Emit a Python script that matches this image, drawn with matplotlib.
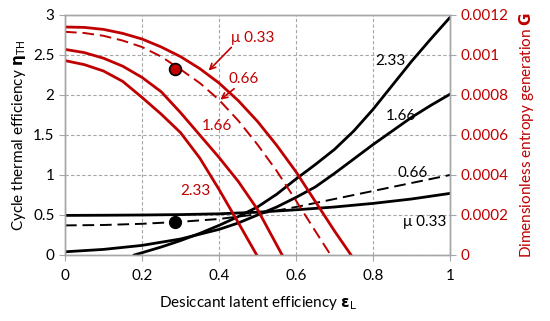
import matplotlib
matplotlib.use("Agg")
import matplotlib.pyplot as plt

RED = "#C00000"
GRAY = "#A6A6A6"

# Black curves: cycle thermal efficiency (left axis)
eps_b033 = [0.0, 0.1, 0.2, 0.3, 0.4, 0.5, 0.6, 0.7, 0.8, 0.9, 1.0]
eta_b033 = [0.495, 0.497, 0.50, 0.505, 0.515, 0.535, 0.565, 0.60, 0.645, 0.70, 0.77]
eps_b066 = [0.0, 0.1, 0.2, 0.3, 0.4, 0.5, 0.6, 0.7, 0.8, 0.9, 1.0]
eta_b066 = [0.37, 0.375, 0.39, 0.415, 0.45, 0.51, 0.60, 0.70, 0.80, 0.90, 1.0]
eps_b166 = [0.0, 0.1, 0.2, 0.3, 0.4, 0.45, 0.5, 0.55, 0.6, 0.65, 0.7, 0.75,
            0.8, 0.85, 0.9, 0.95, 1.0]
eta_b166 = [0.04, 0.07, 0.12, 0.2, 0.32, 0.40, 0.5, 0.6, 0.72, 0.85, 1.02, 1.2,
            1.38, 1.55, 1.72, 1.87, 2.01]
eps_b233 = [0.18, 0.25, 0.3, 0.35, 0.4, 0.45, 0.5, 0.55, 0.6, 0.65, 0.7, 0.75,
            0.8, 0.85, 0.9, 0.95, 1.0]
eta_b233 = [0.0, 0.1, 0.18, 0.27, 0.37, 0.48, 0.6, 0.76, 0.95, 1.13, 1.32, 1.55,
            1.82, 2.12, 2.42, 2.7, 2.97]

# Red curves: dimensionless entropy generation (right axis), in units of 1e-4
eps_r033 = [0.0, 0.05, 0.1, 0.15, 0.2, 0.25, 0.3, 0.35, 0.4, 0.45, 0.5, 0.55,
            0.6, 0.65, 0.7, 0.743]
g_r033 = [11.40, 11.38, 11.28, 11.08, 10.80, 10.40, 9.92, 9.32, 8.60, 7.72,
          6.68, 5.48, 4.16, 2.68, 1.20, 0.0]
eps_r066 = [0.0, 0.05, 0.1, 0.15, 0.2, 0.25, 0.3, 0.35, 0.4, 0.45, 0.5, 0.55,
            0.6, 0.65, 0.69]
g_r066 = [11.16, 11.10, 10.96, 10.72, 10.40, 9.92, 9.28, 8.60, 7.76, 6.72,
          5.52, 4.20, 2.72, 1.20, 0.0]
eps_r166 = [0.0, 0.05, 0.1, 0.15, 0.2, 0.25, 0.3, 0.35, 0.4, 0.45, 0.5, 0.564]
g_r166 = [10.28, 10.12, 9.84, 9.44, 8.88, 8.16, 7.12, 6.00, 4.88, 3.68,
          2.28, 0.0]
eps_r233 = [0.0, 0.05, 0.1, 0.15, 0.2, 0.25, 0.3, 0.35, 0.4, 0.45, 0.498]
g_r233 = [9.72, 9.52, 9.20, 8.68, 7.88, 7.04, 6.12, 4.85, 3.28, 1.62, 0.0]

x_ticks = [0, 0.2, 0.4, 0.6, 0.8, 1]
x_labels = ["0", "0.2", "0.4", "0.6", "0.8", "1"]
y_ticks = [0, 0.5, 1, 1.5, 2, 2.5, 3]
y_labels = ["0", "0.5", "1", "1.5", "2", "2.5", "3"]
g_ticks = [0, 0.0002, 0.0004, 0.0006, 0.0008, 0.001, 0.0012]
g_labels = ["0", "0.0002", "0.0004", "0.0006", "0.0008", "0.001", "0.0012"]

plt.rcParams["font.family"] = ["Lato", "DejaVu Sans"]
plt.rcParams["mathtext.fontset"] = "dejavusans"

fig = plt.figure(figsize=(5.5, 3.21), dpi=100)
ax = fig.add_axes([65 / 550, 66 / 321, 385 / 550, 240 / 321])
ax2 = ax.twinx()

ax.set_xlim(0, 1)
ax.set_ylim(0, 3)
ax2.set_ylim(0, 0.0012)

ax.set_xticks(x_ticks)
ax.set_xticklabels(x_labels)
ax.set_yticks(y_ticks)
ax.set_yticklabels(y_labels)
ax2.set_yticks(g_ticks)
ax2.set_yticklabels(g_labels)

ax.grid(True, color=GRAY, linestyle=(0, (3, 2)), linewidth=0.8)
for sp in ["left", "right", "bottom", "top"]:
    ax.spines[sp].set_color(GRAY)
    ax2.spines[sp].set_color(GRAY)
    ax.spines[sp].set_linewidth(1.0)
    ax2.spines[sp].set_linewidth(1.0)

ax.tick_params(axis="both", colors=GRAY, labelcolor="black", labelsize=11, length=4)
ax.tick_params(axis="x", pad=6)
ax2.tick_params(axis="y", colors=GRAY, labelcolor=RED, labelsize=11, length=4)

lw = 2.0
ax.plot(eps_b033, eta_b033, color="black", lw=lw)
ax.plot(eps_b066, eta_b066, color="black", lw=1.4, ls=(0, (6, 3)))
ax.plot(eps_b166, eta_b166, color="black", lw=lw)
ax.plot(eps_b233, eta_b233, color="black", lw=lw)

scale = 1e-4
ax2.plot(eps_r033, [v * scale for v in g_r033], color=RED, lw=lw)
ax2.plot(eps_r066, [v * scale for v in g_r066], color=RED, lw=1.4, ls=(0, (6, 3)))
ax2.plot(eps_r166, [v * scale for v in g_r166], color=RED, lw=lw)
ax2.plot(eps_r233, [v * scale for v in g_r233], color=RED, lw=lw)

ax.plot([0.286], [0.41], "o", color="black", markersize=8.5, zorder=5)
ax2.plot([0.286], [9.32 * scale], "o", color=RED, markeredgecolor="black",
         markeredgewidth=1.2, markersize=8.5, zorder=5)

# Black labels
ax.text(0.805, 2.42, "2.33", fontsize=11, color="black", va="center")
ax.text(0.834, 1.74, "1.66", fontsize=11, color="black", va="center")
ax.text(0.864, 1.03, "0.66", fontsize=11, color="black", va="center")
ax.text(0.878, 0.41, "μ 0.33", fontsize=11, color="black", va="center")

# Red labels
ax.text(0.43, 2.71, "μ 0.33", fontsize=11, color=RED, va="center")
ax.text(0.425, 2.2, "0.66", fontsize=11, color=RED, va="center")
ax.text(0.355, 1.61, "1.66", fontsize=11, color=RED, va="center")
ax.text(0.30, 0.80, "2.33", fontsize=11, color=RED, va="center")

ax.annotate("", xy=(0.368, 2.28), xytext=(0.437, 2.62),
            arrowprops=dict(arrowstyle="->", color=RED, lw=1.2))
ax.annotate("", xy=(0.398, 1.92), xytext=(0.445, 2.1),
            arrowprops=dict(arrowstyle="->", color=RED, lw=1.2))

ax.set_xlabel(r"Desiccant latent efficiency $\mathbf{\epsilon}_{\mathrm{L}}$",
              fontsize=11, labelpad=8)
ax.set_ylabel(r"Cycle thermal efficiency $\mathbf{\eta}_{\mathrm{TH}}$",
              fontsize=11, labelpad=4)
ax2.set_ylabel(r"Dimensionless entropy generation $\mathbf{G}$",
               fontsize=11, color=RED, labelpad=6)

fig.savefig("out.png", dpi=100)
